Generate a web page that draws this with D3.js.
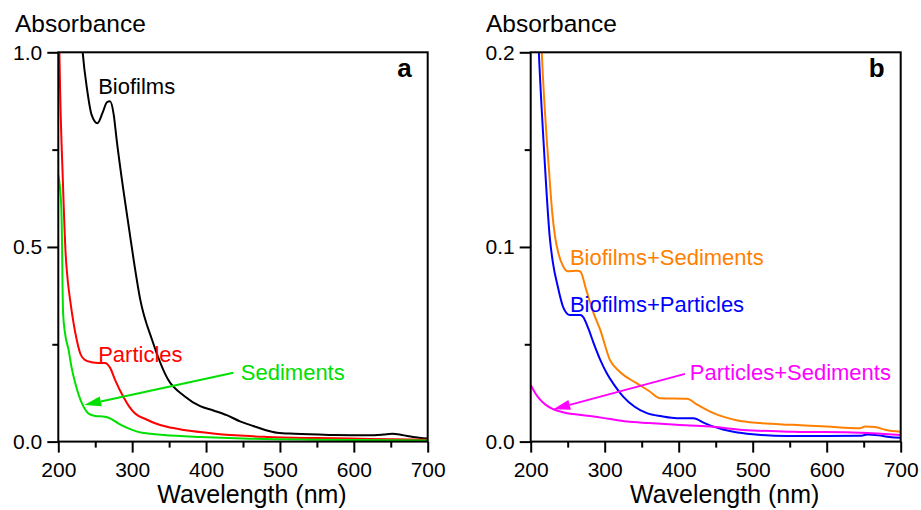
<!DOCTYPE html>
<html>
<head>
<meta charset="utf-8">
<script src="https://cdn.jsdelivr.net/npm/d3@7"></script>
<style>
  html, body { margin: 0; padding: 0; background: #fff; }
  svg { display: block; font-family: "Liberation Sans", Arial, sans-serif; }
  .data-line { fill: none; stroke-width: 2; stroke-linejoin: round; }
  .frame { fill: none; stroke: #000; stroke-width: 2; }
  .tick text { font-size: 21px; fill: #000; }
  .tick line { stroke: #000; stroke-width: 2; }
</style>
</head>
<body>
<svg id="chart" width="921" height="510"></svg>
<script>
"use strict";

/******************************************************* Data *******************************************************/

// Tick values
const X_TICKS = [200, 300, 400, 500, 600, 700];
const X_MINOR = [250, 350, 450, 550, 650];
const A_Y_TICKS = [0, 0.5, 1.0];
const A_Y_MINOR = [0.25, 0.75];
const B_Y_TICKS = [0, 0.1, 0.2];
const B_Y_MINOR = [0.05, 0.15];

// Panel a spectra: [wavelength, absorbance]
const BIOFILMS = [
  [225, 1.25], [233, 1.0], [239, 0.904], [245, 0.84], [253, 0.818], [260, 0.845],
  [266, 0.872], [270, 0.874], [275, 0.84], [279, 0.775], [288, 0.647], [296, 0.544],
  [302, 0.467], [311, 0.364], [327, 0.261], [349, 0.158], [370, 0.118], [392, 0.091],
  [410, 0.08], [428, 0.068], [446, 0.052], [464, 0.04], [480, 0.03], [496, 0.023],
  [520, 0.02], [572, 0.017], [620, 0.016], [640, 0.018], [652, 0.02], [665, 0.017],
  [680, 0.012], [700, 0.008]
];
const PARTICLES = [
  [200.5, 1.1], [201.5, 1.0], [202.5, 0.9], [206, 0.68], [210, 0.48], [213, 0.41],
  [216, 0.364], [225, 0.261], [230, 0.225], [236, 0.21], [245, 0.204], [255, 0.202],
  [263, 0.202], [270, 0.19], [277, 0.158], [288, 0.115], [296, 0.09], [304, 0.072],
  [318, 0.058], [331, 0.047], [347, 0.038], [370, 0.03], [401, 0.023], [440, 0.016],
  [482, 0.012], [550, 0.009], [620, 0.007], [700, 0.005]
];
const SEDIMENTS = [
  [200, 0.685], [203.8, 0.613], [205, 0.52], [205.6, 0.42], [206.5, 0.33], [209, 0.28],
  [214, 0.235], [218, 0.19], [223, 0.15], [232, 0.098], [241, 0.072], [250, 0.066],
  [263, 0.064], [272, 0.058], [281, 0.047], [295, 0.034], [308, 0.025], [325, 0.02],
  [343, 0.017], [392, 0.012], [450, 0.008], [550, 0.005], [700, 0.003]
];

// Panel b spectra: [wavelength, absorbance]
const BIOFILMS_SEDIMENTS = [
  [210, 0.26], [215, 0.2], [220, 0.165], [225, 0.138], [229, 0.118], [233, 0.105],
  [238, 0.096], [244, 0.09], [250, 0.0875], [262, 0.0878], [267, 0.0874], [275, 0.078],
  [285, 0.066], [294, 0.0574], [307, 0.042], [320, 0.036], [343, 0.03], [360, 0.026],
  [375, 0.0223], [411, 0.022], [425, 0.019], [447, 0.0146], [478, 0.011], [510, 0.0095],
  [555, 0.0086], [600, 0.0077], [645, 0.0069], [652, 0.0077], [665, 0.0075], [680, 0.006],
  [700, 0.0051]
];
const BIOFILMS_PARTICLES = [
  [205, 0.26], [211, 0.2], [218, 0.15], [226, 0.104], [230, 0.092], [237, 0.079],
  [244, 0.069], [253, 0.065], [267, 0.065], [271, 0.064], [278, 0.058], [285, 0.0506],
  [294, 0.042], [303, 0.035], [313, 0.029], [325, 0.0231], [340, 0.018], [357, 0.0146],
  [377, 0.013], [397, 0.012], [420, 0.012], [435, 0.0095], [447, 0.0077], [460, 0.0062],
  [474, 0.0051], [500, 0.0038], [546, 0.0029], [600, 0.0029], [645, 0.003], [655, 0.0036],
  [670, 0.0032], [685, 0.0024], [700, 0.002]
];
const PARTICLES_SEDIMENTS = [
  [200, 0.0291], [206, 0.025], [213, 0.0214], [220, 0.019], [230, 0.0167], [240, 0.0155],
  [249, 0.0146], [265, 0.0138], [285, 0.0129], [305, 0.0117], [330, 0.0103], [360, 0.0095],
  [397, 0.0086], [442, 0.0077], [487, 0.006], [555, 0.0051], [645, 0.0046], [700, 0.0034]
];

/******************************************************* Panels *******************************************************/

const PANELS = [
  {
    id: "a", left: 58.3, right: 427.7, yMax: 1.0,
    ticks: A_Y_TICKS, minor: A_Y_MINOR, titleX: 15,
    series: [
      { data: BIOFILMS, color: "#000000", label: "Biofilms", at: [254, 0.894] },
      { data: PARTICLES, color: "#ff0000", label: "Particles", at: [254, 0.205] },
      { data: SEDIMENTS, color: "#00e000", label: "Sediments", at: [447, 0.158],
        arrow: [[437, 0.177], [235, 0.094]] }
    ]
  },
  {
    id: "b", left: 530.7, right: 900.7, yMax: 0.2,
    ticks: B_Y_TICKS, minor: B_Y_MINOR, titleX: 486,
    series: [
      { data: BIOFILMS_SEDIMENTS, color: "#ff8000", label: "Biofilms+Sediments", at: [253, 0.0908] },
      { data: BIOFILMS_PARTICLES, color: "#0000ff", label: "Biofilms+Particles", at: [253, 0.0668] },
      { data: PARTICLES_SEDIMENTS, color: "#ff00ff", label: "Particles+Sediments", at: [415, 0.0317],
        arrow: [[408.5, 0.0348], [230.5, 0.0166]] }
    ]
  }
];

const TOP = 52.3;
const BOTTOM = 441.6;
const SVG = d3.select("#chart");

/******************************************************* Render *******************************************************/

PANELS.forEach(function(p) {
  const xScale = d3.scaleLinear().domain([200, 700]).range([p.left, p.right]);
  const yScale = d3.scaleLinear().domain([0, p.yMax]).range([BOTTOM, TOP]);

  // Clip path for the plot area
  SVG.append("defs").append("clipPath").attr("id", "clip-" + p.id)
    .append("rect")
    .attr("x", p.left).attr("y", TOP)
    .attr("width", p.right - p.left).attr("height", BOTTOM - TOP);

  // Minor ticks
  SVG.append("g")
    .attr("transform", "translate(0," + BOTTOM + ")")
    .call(d3.axisBottom(xScale).tickValues(X_MINOR).tickSize(6).tickFormat(""))
    .call(g => g.select(".domain").remove());
  SVG.append("g")
    .attr("transform", "translate(" + p.left + ",0)")
    .call(d3.axisLeft(yScale).tickValues(p.minor).tickSize(6).tickFormat(""))
    .call(g => g.select(".domain").remove());

  // Major ticks
  SVG.append("g")
    .attr("transform", "translate(0," + BOTTOM + ")")
    .call(d3.axisBottom(xScale).tickValues(X_TICKS).tickSize(11).tickPadding(9).tickFormat(d3.format("d")))
    .call(g => g.select(".domain").remove());
  SVG.append("g")
    .attr("transform", "translate(" + p.left + ",0)")
    .call(d3.axisLeft(yScale).tickValues(p.ticks).tickSize(11).tickPadding(5).tickFormat(d3.format(".1f")))
    .call(g => g.select(".domain").remove());

  // Lines
  const line = d3.line()
    .x(d => xScale(d[0]))
    .y(d => yScale(d[1]))
    .curve(d3.curveMonotoneX);

  const gLines = SVG.append("g").attr("clip-path", "url(#clip-" + p.id + ")");
  p.series.forEach(function(s) {
    gLines.append("path")
      .datum(s.data)
      .classed("data-line", true)
      .attr("stroke", s.color)
      .attr("d", line);
  });

  // Frame
  SVG.append("rect")
    .classed("frame", true)
    .attr("x", p.left).attr("y", TOP)
    .attr("width", p.right - p.left).attr("height", BOTTOM - TOP);

  // Labels and arrows
  p.series.forEach(function(s) {
    SVG.append("text")
      .attr("x", xScale(s.at[0]))
      .attr("y", yScale(s.at[1]))
      .attr("fill", s.color)
      .style("font-size", "22px")
      .text(s.label);

    if (s.arrow) {
      const x0 = xScale(s.arrow[0][0]), y0 = yScale(s.arrow[0][1]);
      const x1 = xScale(s.arrow[1][0]), y1 = yScale(s.arrow[1][1]);
      const ang = Math.atan2(y1 - y0, x1 - x0);
      const len = 17, half = 5;
      const bx = x1 - len * Math.cos(ang), by = y1 - len * Math.sin(ang);
      SVG.append("line")
        .attr("x1", x0).attr("y1", y0).attr("x2", bx).attr("y2", by)
        .attr("stroke", s.color).attr("stroke-width", 2);
      SVG.append("polygon")
        .attr("fill", s.color)
        .attr("points", [
          [x1, y1],
          [bx + half * Math.sin(ang), by - half * Math.cos(ang)],
          [bx - half * Math.sin(ang), by + half * Math.cos(ang)]
        ].map(q => q.join(",")).join(" "));
    }
  });

  // Panel letter
  SVG.append("text")
    .attr("x", p.right - 16)
    .attr("y", 77)
    .attr("text-anchor", "end")
    .style("font-size", "26px")
    .style("font-weight", "bold")
    .text(p.id);

  // Axis titles
  SVG.append("text")
    .attr("x", p.titleX)
    .attr("y", 32)
    .style("font-size", "24.5px")
    .text("Absorbance");

  SVG.append("text")
    .attr("x", (p.left + p.right) / 2 + 9)
    .attr("y", 503)
    .attr("text-anchor", "middle")
    .style("font-size", "25px")
    .text("Wavelength (nm)");
});
</script>
</body>
</html>
